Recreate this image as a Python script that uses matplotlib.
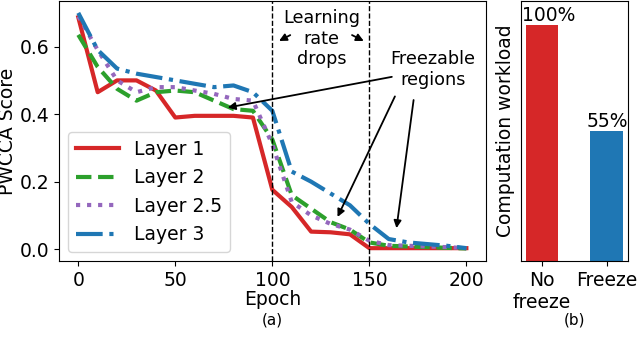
import numpy as np
import matplotlib.pyplot as plt

# Data
epochs = [0, 10, 20, 30, 40, 50, 60, 70, 80, 90, 100,
          110, 120, 130, 140, 150, 160, 170, 180, 190, 200]
layer1 = [0.687, 0.465, 0.50, 0.50, 0.47, 0.39, 0.395, 0.395, 0.395, 0.39, 0.176,
          0.125, 0.052, 0.05, 0.044, 0.003, 0.003, 0.003, 0.003, 0.003, 0.003]
layer2 = [0.635, 0.54, 0.475, 0.44, 0.465, 0.47, 0.465, 0.44, 0.415, 0.41, 0.325,
          0.16, 0.12, 0.08, 0.058, 0.02, 0.01, 0.008, 0.006, 0.004, 0.002]
layer25 = [0.69, 0.59, 0.50, 0.465, 0.48, 0.48, 0.47, 0.46, 0.445, 0.44, 0.31,
           0.14, 0.10, 0.075, 0.058, 0.025, 0.012, 0.01, 0.008, 0.006, 0.003]
layer3 = [0.70, 0.59, 0.535, 0.52, 0.51, 0.50, 0.49, 0.48, 0.485, 0.465, 0.41,
          0.23, 0.20, 0.165, 0.13, 0.075, 0.03, 0.02, 0.015, 0.01, 0.003]
lr_drops = [100, 150]

bar_labels = ["No\nfreeze", "Freeze"]
workload   = [100, 55]

plt.rcParams["font.size"] = 13.5

fig = plt.figure(figsize=(6.4, 3.58), dpi=100)
ax  = fig.add_axes([0.092, 0.271, 0.667, 0.726])
axb = fig.add_axes([0.814, 0.271, 0.167, 0.726])

# (a) PWCCA curves
ax.plot(epochs, layer1, color="#d62728", lw=3, ls="-", label="Layer 1")
ax.plot(epochs, layer2, color="#2ca02c", lw=3, ls="--", label="Layer 2")
ax.plot(epochs, layer25, color="#9467bd", lw=3, ls=":", label="Layer 2.5")
ax.plot(epochs, layer3, color="#1f77b4", lw=3, ls="-.", label="Layer 3")
for e in lr_drops:
    ax.axvline(e, color="black", ls="--", lw=1)

ax.set_xlim(-10, 210)
ax.set_ylim(-0.035, 0.735)
ax.set_xticks([0, 50, 100, 150, 200])
ax.set_yticks([0.0, 0.2, 0.4, 0.6])
ax.set_xlabel("Epoch", labelpad=0)
ax.set_ylabel("PWCCA Score", labelpad=2)
ax.text(0.5, -0.227, "(a)", transform=ax.transAxes, ha="center", va="center", fontsize=11)
ax.legend(loc="lower left", handlelength=2.3)

arrow = dict(arrowstyle="-|>", color="black", lw=1.3, mutation_scale=11)
ax.text(125.3, 0.624, "Learning\nrate\ndrops", ha="center", va="center",
        fontsize=12.7, linespacing=1.2)
ax.annotate("", xy=(102.2, 0.613), xytext=(110.5, 0.638), arrowprops=arrow)
ax.annotate("", xy=(148.4, 0.613), xytext=(139.8, 0.638), arrowprops=arrow)

ax.text(182.7, 0.532, "Freezable\nregions", ha="center", va="center",
        fontsize=12.7, linespacing=1.2)
ax.annotate("", xy=(75.6, 0.418), xytext=(163, 0.512), arrowprops=arrow)
ax.annotate("", xy=(133, 0.088), xytext=(163.8, 0.46), arrowprops=arrow)
ax.annotate("", xy=(163.8, 0.054), xytext=(173, 0.45), arrowprops=arrow)

# (b) computation workload
xb = np.arange(len(workload))
axb.bar(xb, workload, width=0.5, color=["#d62728", "#1f77b4"])
for x, w in zip(xb, workload):
    axb.text(x - 0.31, w, f"{w}%", ha="left", va="bottom")
axb.set_xlim(-0.33, 1.33)
axb.set_ylim(0, 110)
axb.set_xticks(xb)
axb.set_xticklabels(bar_labels)
axb.set_yticks([])
axb.set_ylabel("Computation workload", labelpad=4)
axb.text(0.5, -0.227, "(b)", transform=axb.transAxes, ha="center", va="center", fontsize=11)

plt.savefig("out.png", dpi=100)
